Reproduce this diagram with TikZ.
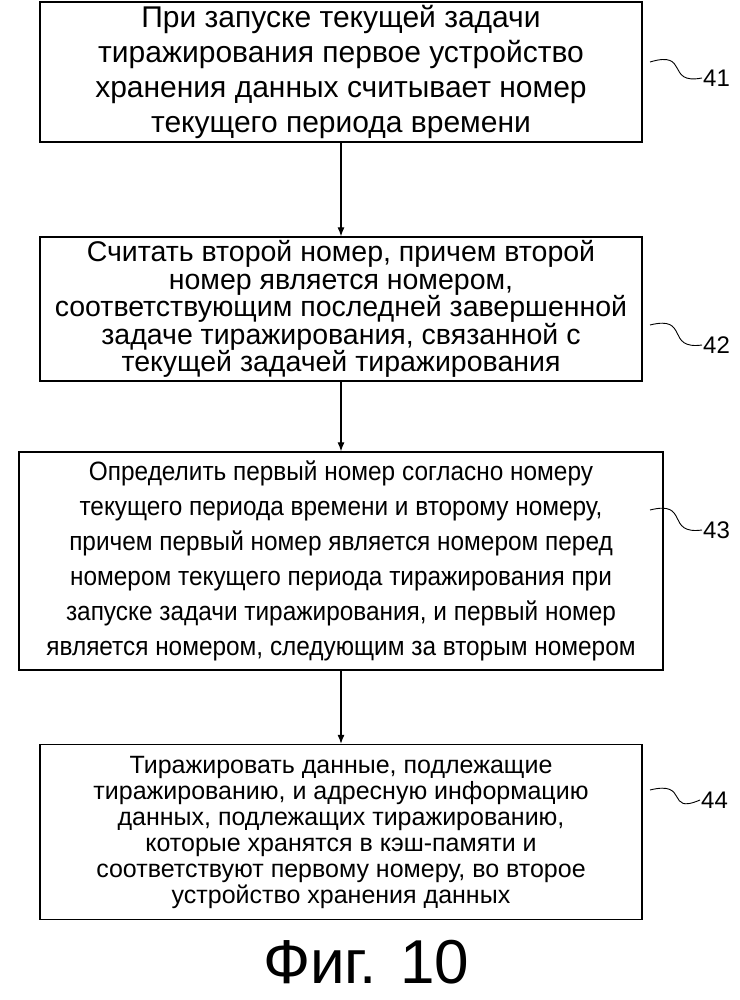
\documentclass[tikz,border=0pt]{standalone}
\usepackage{fontspec}
\usetikzlibrary{arrows.meta}
\setmainfont{Liberation Sans}
\begin{document}
\begin{tikzpicture}[x=1pt,y=-1pt,
  box/.style={draw,line width=1.3pt,align=center,inner sep=0pt},
  arr/.style={-{Latex[length=9pt,width=7pt]},line width=1.1pt},
  sq/.style={line width=0.9pt}]
\useasboundingbox (0,0) rectangle (739,1000);
\node[box,minimum width=602pt,minimum height=140pt,font=\fontsize{30}{35}\selectfont] (b1) at (341,72)
 {При запуске текущей задачи\\тиражирования первое устройство\\хранения данных считывает номер\\текущего периода времени};
\node[box,minimum width=602pt,minimum height=144pt,font=\fontsize{28.5}{27.5}\selectfont] (b2) at (341,309)
 {Считать второй номер, причем второй\\номер является номером,\\соответствующим последней завершенной\\задаче тиражирования, связанной с\\текущей задачей тиражирования};
\node[box,minimum width=602pt,minimum height=218pt,font=\fontsize{26.5}{35}\selectfont] (b3) at (341,561)
 {\scalebox{0.92}[1]{\parbox{700pt}{\centering Определить первый номер согласно номеру\\текущего периода времени и второму номеру,\\причем первый номер является номером перед\\номером текущего периода тиражирования при\\запуске задачи тиражирования, и первый номер\\является номером, следующим за вторым номером}}};
\node[box,minimum width=602pt,minimum height=175pt,font=\fontsize{25}{26}\selectfont] (b4) at (341,832)
 {Тиражировать данные, подлежащие\\тиражированию, и адресную информацию\\данных, подлежащих тиражированию,\\которые хранятся в кэш-памяти и\\соответствуют первому номеру, во второе\\устройство хранения данных};
\draw[arr] (b1.south) -- (b2.north);
\draw[arr] (b2.south) -- (b3.north);
\draw[arr] (b3.south) -- (b4.north);
\node[font=\fontsize{24}{24}\selectfont,anchor=west,inner sep=1pt] (l1) at (702,78) {41};
\node[font=\fontsize{24}{24}\selectfont,anchor=west,inner sep=1pt] (l2) at (702,345) {42};
\node[font=\fontsize{24}{24}\selectfont,anchor=west,inner sep=1pt] (l3) at (702,530) {43};
\node[font=\fontsize{24}{24}\selectfont,anchor=west,inner sep=1pt] (l4) at (700,800) {44};
\draw[sq] (650,62) .. controls (690,50) and (665,85) .. (l1.west);
\draw[sq] (650,325) .. controls (690,315) and (665,350) .. (l2.west);
\draw[sq] (650,510) .. controls (690,500) and (665,535) .. (l3.west);
\draw[sq] (650,790) .. controls (690,780) and (665,815) .. (l4.west);
\node[font=\fontsize{62}{62}\selectfont] (cap) at (366,962) {Фиг. 10};
\end{tikzpicture}
\end{document}
